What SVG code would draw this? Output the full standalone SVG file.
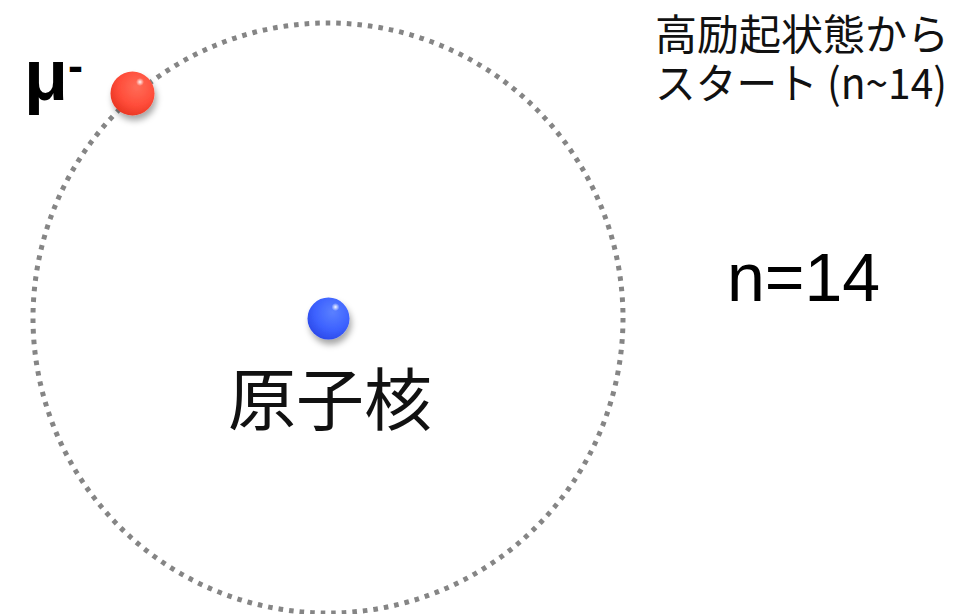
<svg xmlns="http://www.w3.org/2000/svg" width="958" height="614" viewBox="0 0 958 614">
  <style>
    .orbit { fill: none; stroke: #858585; stroke-width: 5; stroke-dasharray: 4.6 5.99; }
    .jp { font-family: "Noto Sans CJK JP", "Noto Sans", sans-serif; fill: #111; }
    .lat { font-family: "Liberation Sans", Arial, sans-serif; fill: #000; }
  </style>
  <defs>
    <radialGradient id="redGrad" cx="0.6" cy="0.35" r="0.7">
      <stop offset="0" stop-color="#ff6c58"/>
      <stop offset="0.6" stop-color="#ff4d3a"/>
      <stop offset="1" stop-color="#e83420"/>
    </radialGradient>
    <radialGradient id="blueGrad" cx="0.6" cy="0.35" r="0.7">
      <stop offset="0" stop-color="#5a80ff"/>
      <stop offset="0.6" stop-color="#3d62ff"/>
      <stop offset="1" stop-color="#2a48e8"/>
    </radialGradient>
    <radialGradient id="shine" cx="0.5" cy="0.5" r="0.5">
      <stop offset="0" stop-color="#ffffff" stop-opacity="0.95"/>
      <stop offset="1" stop-color="#ffffff" stop-opacity="0"/>
    </radialGradient>
    <filter id="ballShadow" x="-50%" y="-50%" width="200%" height="200%">
      <feDropShadow dx="2" dy="5" stdDeviation="3" flood-color="#000" flood-opacity="0.35"/>
    </filter>
  </defs>

  <!-- dotted orbit, n=14 -->
  <g id="connectors">
    <circle class="orbit" cx="328" cy="318" r="295"/>
  </g>

  <!-- nucleus -->
  <g id="nucleus">
    <circle cx="328.5" cy="318.5" r="21" fill="url(#blueGrad)" filter="url(#ballShadow)"/>
    <circle cx="335.5" cy="307" r="4" fill="url(#shine)"/>
  </g>

  <!-- muon -->
  <g id="muon">
    <circle cx="132.5" cy="93.5" r="22" fill="url(#redGrad)" filter="url(#ballShadow)"/>
    <circle cx="140" cy="82" r="4" fill="url(#shine)"/>
  </g>

  <g id="muon-label">
    <text class="lat" x="24" y="100" font-size="72" font-weight="bold">μ<tspan font-size="45" dy="-19">-</tspan></text>
  </g>

  <g id="nucleus-label">
    <text class="jp" x="330" y="425" font-size="68" text-anchor="middle">原子核</text>
  </g>

  <g id="level-label">
    <text class="lat" x="727" y="301" font-size="68">n=14</text>
  </g>

  <g id="start-note">
    <text class="jp" x="655" y="50" font-size="42">高励起状態から</text>
    <text class="jp" x="655" y="99" font-size="42" textLength="292" lengthAdjust="spacingAndGlyphs">スタート (n~14)</text>
  </g>
</svg>
